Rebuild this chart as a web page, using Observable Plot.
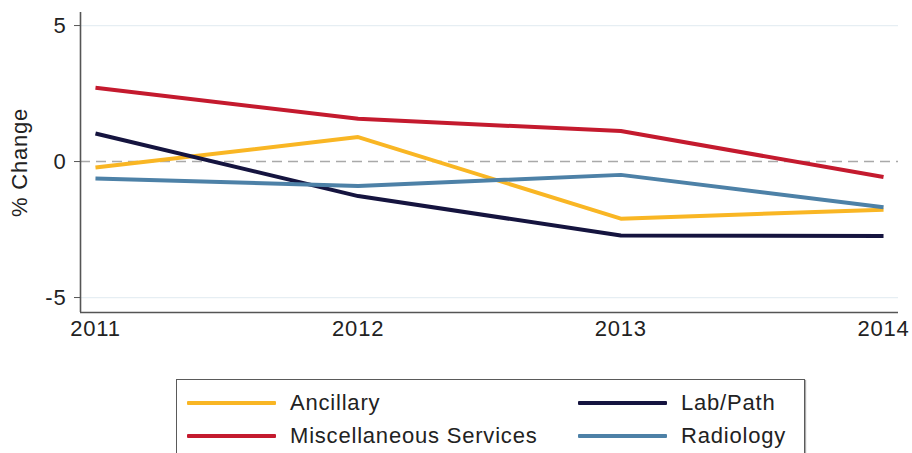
<!DOCTYPE html>
<html>
<head>
<meta charset="utf-8">
<script src="https://cdn.jsdelivr.net/npm/d3@7"></script>
<script src="https://cdn.jsdelivr.net/npm/@observablehq/plot@0.6"></script>
<style>
  html, body { margin: 0; padding: 0; background: #fff; }
  #wrap { position: relative; width: 912px; height: 453px; overflow: hidden; font-family: "Liberation Sans", Arial, Helvetica, sans-serif; }
  #legend { position: absolute; left: 176px; top: 379px; width: 629px; height: 100px; border: 1px solid #5a5a5a; box-shadow: 1px 1px 1px #aaa; box-sizing: border-box; padding: 6px 0 0 10px; display: flex; flex-wrap: wrap; align-content: flex-start; }
  .item { width: 391px; height: 33px; display: flex; align-items: center; }
  .item:nth-child(2n) { width: 220px; }
  .sw { width: 89px; height: 4px; margin-right: 14px; border-radius: 1px; }
  .lab { font-size: 22px; letter-spacing: 0.8px; color: #222; }
</style>
</head>
<body>
<div id="wrap"></div>
<script>
const years = [2011, 2012, 2013, 2014];
const seriesNames = ["Ancillary", "Lab/Path", "Miscellaneous Services", "Radiology"];
const ancillary = [-0.22, 0.90, -2.10, -1.77];
const labPath = [1.03, -1.27, -2.72, -2.74];
const misc = [2.71, 1.57, 1.12, -0.57];
const radiology = [-0.62, -0.90, -0.49, -1.68];
const seriesColors = ["#f9b624", "#15143f", "#c41a2e", "#4d81a7"];
const yTicks = [-5, 0, 5];
const legendOrder = ["Ancillary", "Lab/Path", "Miscellaneous Services", "Radiology"];

const seriesValues = [ancillary, labPath, misc, radiology];
const data = [];
seriesNames.forEach((name, i) => {
  years.forEach((yr, j) => data.push({series: name, year: yr, value: seriesValues[i][j]}));
});

const xDomain = [2010.943, 2014.057];
const yDomain = [-5.55, 5.48];
const font = "Liberation Sans, Arial, Helvetica, sans-serif";

const chart = Plot.plot({
  width: 912,
  height: 350,
  marginLeft: 80,
  marginRight: 14,
  marginTop: 12,
  marginBottom: 38,
  style: {fontFamily: font, fontSize: "22px", color: "#222", background: "#fff", overflow: "visible"},
  x: {domain: xDomain, axis: null},
  y: {domain: yDomain, axis: null},
  color: {domain: seriesNames, range: seriesColors},
  marks: [
    Plot.ruleY([-5, 5], {stroke: "#e6eef3", strokeWidth: 1.2}),
    Plot.ruleY([0], {stroke: "#a9a9a9", strokeWidth: 1.6, strokeDasharray: "10,6"}),
    Plot.line(data, {x: "year", y: "value", z: "series", stroke: "series", strokeWidth: 4, strokeLinejoin: "miter", strokeLinecap: "butt"}),
    Plot.ruleY([yDomain[0]], {stroke: "#555", strokeWidth: 1.6}),
    Plot.ruleX([xDomain[0]], {stroke: "#555", strokeWidth: 1.6}),
    Plot.axisY({ticks: yTicks, tickSize: 6, tickPadding: 8, fontSize: 22, tickFormat: d => d < 0 ? "-" + Math.abs(d) : String(d), label: null, stroke: "#555", fill: "#222"}),
    Plot.axisX({ticks: years, tickSize: 0, tickPadding: 8, fontSize: 22, tickFormat: d => String(d), label: null, fill: "#222"}),
    Plot.text(["% Change"], {frameAnchor: "left", dx: -61, rotate: -90, textAnchor: "middle", lineAnchor: "middle", fontSize: 22, fill: "#222", text: d => d})
  ]
});

const wrap = document.getElementById("wrap");
wrap.appendChild(chart);
chart.querySelectorAll("text").forEach(t => t.setAttribute("letter-spacing", "0.8"));

const legend = document.createElement("div");
legend.id = "legend";
legendOrder.forEach(name => {
  const item = document.createElement("div");
  item.className = "item";
  const sw = document.createElement("div");
  sw.className = "sw";
  sw.style.background = seriesColors[seriesNames.indexOf(name)];
  const lab = document.createElement("span");
  lab.className = "lab";
  lab.textContent = name;
  item.appendChild(sw);
  item.appendChild(lab);
  legend.appendChild(item);
});
wrap.appendChild(legend);
</script>
</body>
</html>
